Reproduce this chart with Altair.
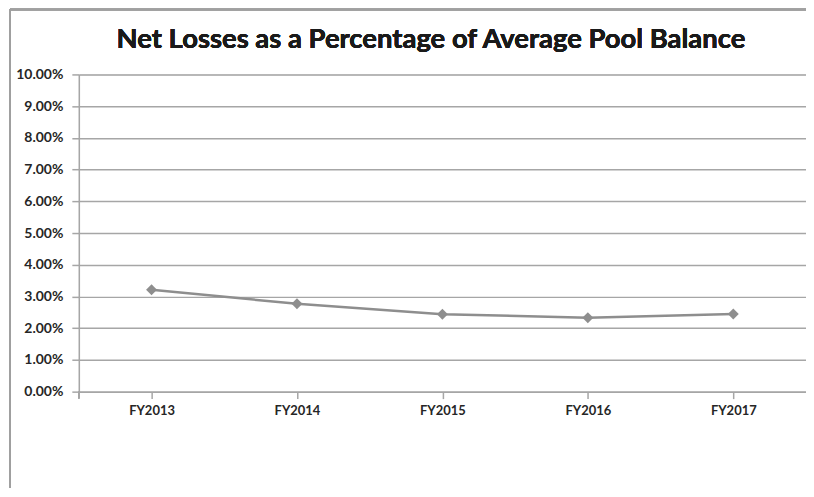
import altair as alt
import pandas as pd

years = ["FY2013", "FY2014", "FY2015", "FY2016", "FY2017"]
loss_pct = [0.0321, 0.0277, 0.0244, 0.0233, 0.0245]
y_ticks = [0.00, 0.01, 0.02, 0.03, 0.04, 0.05, 0.06, 0.07, 0.08, 0.09, 0.10]
title_text = "Net Losses as a Percentage of Average Pool Balance"

df = pd.DataFrame({"year": years, "pct": loss_pct})

FONT = "Lato"
GRID = "#a6a6a6"
LINE = "#8e8e8e"

x_enc = alt.X("year:N", sort=years, title=None,
              scale=alt.Scale(type="point", padding=0.5),
              axis=alt.Axis(labelFont=FONT, labelFontWeight="bold", labelFontSize=13,
                            labelColor="#262626", labelPadding=6, labelAngle=0,
                            labelOverlap=False,
                            tickSize=7, tickColor=GRID, tickWidth=1.5,
                            domainColor=GRID, domainWidth=1.5, grid=False))
y_enc = alt.Y("pct:Q", title=None,
              scale=alt.Scale(domain=[0, 0.10], nice=False),
              axis=alt.Axis(values=y_ticks, format=".2%", labelFont=FONT,
                            labelFontWeight="bold", labelFontSize=14, labelColor="#262626",
                            labelOverlap=False, labelBound=False,
                            labelPadding=9, tickSize=7, tickColor=GRID, tickWidth=1.5,
                            domainColor=GRID, domainWidth=1.5,
                            grid=True, gridColor=GRID, gridWidth=1.5))

base = alt.Chart(df).encode(x=x_enc, y=y_enc)
line = base.mark_line(color=LINE, strokeWidth=2.5)
pts = base.mark_point(shape="diamond", filled=True, size=120, color=LINE, opacity=1)

border_top = alt.Chart(df).mark_rule(color="#a0a0a0", strokeWidth=2, clip=False).encode(
    x=alt.value(-69), x2=alt.value(740), y=alt.value(-65))
border_left = alt.Chart(df).mark_rule(color="#a0a0a0", strokeWidth=2, clip=False).encode(
    x=alt.value(-69), y=alt.value(-65), y2=alt.value(420))
yaxis_ext = alt.Chart(df).mark_rule(color=GRID, strokeWidth=1.5).encode(
    x=alt.value(0), y=alt.value(318), y2=alt.value(325))
title = alt.Chart(df).mark_text(font=FONT, fontSize=27.5, fontWeight="bold", color="#1a1a1a",
                                align="center", baseline="alphabetic").encode(
    x=alt.value(353), y=alt.value(-27), text=alt.value(title_text))

chart = alt.layer(border_top, border_left, yaxis_ext, title, line, pts).properties(
    width=729, height=318,
    autosize=alt.AutoSizeParams(type="none"),
    padding={"left": 71, "top": 66, "right": 0, "bottom": 96},
).configure_view(stroke=None).configure(background="white")

chart.save("out.html", embed_options={"renderer": "svg", "actions": False})
